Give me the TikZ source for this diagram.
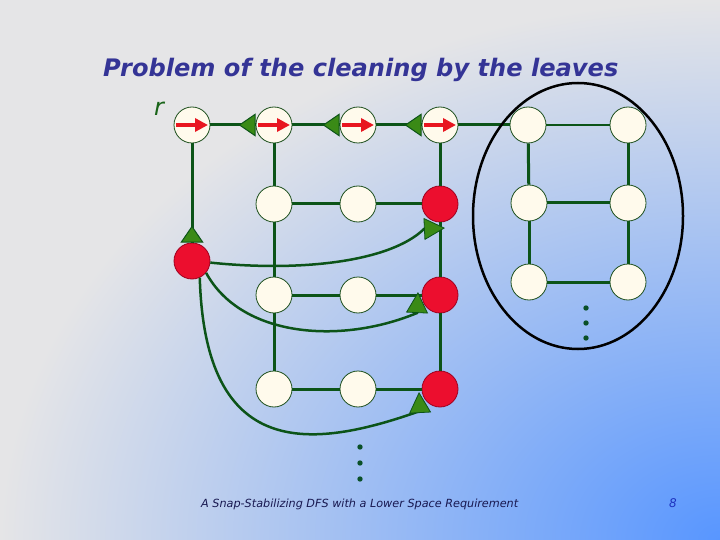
\documentclass[tikz,border=0pt]{standalone}
\usepackage{fontspec}
\setmainfont{DejaVu Sans}
\usetikzlibrary{arrows.meta}
\definecolor{bggray}{RGB}{229,229,231}
\definecolor{bgblue}{RGB}{88,150,255}
\definecolor{edgegreen}{RGB}{12,84,24}
\definecolor{nodeborder}{RGB}{30,80,30}
\definecolor{cream}{RGB}{255,250,236}
\definecolor{nodered}{RGB}{236,14,46}
\definecolor{redborder}{RGB}{160,0,30}
\definecolor{trigreen}{RGB}{58,138,22}
\definecolor{arrred}{RGB}{232,22,32}
\definecolor{titleblue}{RGB}{52,52,150}
\definecolor{footblue}{RGB}{24,24,80}
\definecolor{pageblue}{RGB}{30,50,190}
\definecolor{rgreen}{RGB}{25,100,25}
\definecolor{dotgreen}{RGB}{10,80,40}
\begin{document}
\begin{tikzpicture}[x=1pt,y=-1pt,
  wnode/.style={circle, draw=nodeborder, line width=0.8pt, fill=cream, minimum size=36pt, inner sep=0pt},
  rnode/.style={circle, draw=redborder, line width=0.8pt, fill=nodered, minimum size=36pt, inner sep=0pt},
  edge/.style={draw=edgegreen, line width=3pt},
  tri/.style={draw=edgegreen, line width=1pt, -{Triangle[length=17pt,width=23pt,fill=trigreen]}},
  curvearr/.style={draw=edgegreen, line width=2.5pt, -{Triangle[length=21pt,width=22pt,fill=trigreen,line width=0.8pt]}},
  redarr/.style={draw=arrred, line width=4pt, -{Triangle[length=13pt,width=13pt]}},
  dot/.style={fill=dotgreen}
]
\useasboundingbox (0,0) rectangle (720,540);
\fill[bggray] (0,0) rectangle (720,540);
\begin{scope}
  \clip (0,0) rectangle (720,540);
  \shade[inner color=bgblue, outer color=bggray] (720,540) ellipse [x radius=720, y radius=540];
\end{scope}

% texts
\node[anchor=base west, text=titleblue, inner sep=0pt] (title) at (103,77)
  {\resizebox{515pt}{!}{\bfseries\itshape Problem of the cleaning by the leaves}};
\node[anchor=base west, text=rgreen, inner sep=0pt] (rlabel) at (154,116)
  {\fontsize{24pt}{28pt}\selectfont\itshape r};
\node[anchor=base west, text=footblue, inner sep=0pt] (foot) at (201,507)
  {\resizebox{317pt}{!}{\itshape A Snap-Stabilizing DFS with a Lower Space Requirement}};
\node[anchor=base, text=pageblue, inner sep=0pt] (page) at (673,507)
  {\fontsize{12pt}{14pt}\selectfont\itshape 8};

% nodes
\node[wnode] (t1) at (192,125) {};
\node[wnode] (t2) at (274,125) {};
\node[wnode] (t3) at (358,125) {};
\node[wnode] (t4) at (440,125) {};
\node[wnode] (t5) at (528,125) {};
\node[wnode] (t6) at (628,125) {};
\node[rnode] (rl) at (192,261) {};
\node[wnode] (a2) at (274,204) {};
\node[wnode] (a3) at (358,204) {};
\node[rnode] (r1) at (440,204) {};
\node[wnode] (b2) at (274,295) {};
\node[wnode] (b3) at (358,295) {};
\node[rnode] (r2) at (440,295) {};
\node[wnode] (c2) at (274,389) {};
\node[wnode] (c3) at (358,389) {};
\node[rnode] (r3) at (440,389) {};
\node[wnode] (e1) at (529,203) {};
\node[wnode] (e2) at (628,203) {};
\node[wnode] (f1) at (529,282) {};
\node[wnode] (f2) at (628,282) {};

% grid edges
\draw[edge] (t1) -- (t2);
\draw[edge] (t2) -- (t3);
\draw[edge] (t3) -- (t4);
\draw[edge] (t4) -- (t5);
\draw[edge, line width=2.2pt] (t5) -- (t6);
\draw[edge] (t1) -- (rl);
\draw[edge] (t2) -- (a2);
\draw[edge] (a2) -- (b2);
\draw[edge] (b2) -- (c2);
\draw[edge] (t4) -- (r1);
\draw[edge] (r1) -- (r2);
\draw[edge] (r2) -- (r3);
\draw[edge] (a2) -- (a3);
\draw[edge] (a3) -- (r1);
\draw[edge] (b2) -- (b3);
\draw[edge] (b3) -- (r2);
\draw[edge] (c2) -- (c3);
\draw[edge] (c3) -- (r3);
\draw[edge] (t5) -- (e1);
\draw[edge] (e1) -- (f1);
\draw[edge] (t6) -- (e2);
\draw[edge] (e2) -- (f2);
\draw[edge] (e1) -- (e2);
\draw[edge] (f1) -- (f2);

% red arrows inside top nodes
\foreach \n in {t1,t2,t3,t4}{
  \draw[redarr] ([xshift=-16pt]\n.center) -- ([xshift=16pt]\n.center);
}

% green triangles on the top row and above the red node
\draw[tri] (t2.west) -- ++(-17,0);
\draw[tri] (t3.west) -- ++(-17,0);
\draw[tri] (t4.west) -- ++(-17,0);
\draw[tri] (rl.north) -- ++(0,-17);

% curved connectors
\coordinate (m1) at (424,229);
\coordinate (k1) at (445,228);
\coordinate (m2) at (417,313);
\coordinate (k2) at (418,292);
\coordinate (m3) at (420,411);
\coordinate (k3) at (419,392);
\draw[curvearr] (rl.-5) .. controls (300,272) and (390,262) .. (m1) -- (k1);
\draw[curvearr] (rl.-40) .. controls (241,337) and (340,345) .. (m2) -- (k2);
\draw[curvearr] (rl.-65) .. controls (205,460) and (310,450) .. (m3) -- (k3);

% dots
\foreach \y in {308,323,338}{ \fill[dot] (586,\y) circle [radius=2.7]; }
\foreach \y in {447,463,479}{ \fill[dot] (360,\y) circle [radius=2.7]; }

% ellipse around the right part
\draw[black, line width=2.5pt] (578,216) ellipse [x radius=105, y radius=133];
\end{tikzpicture}
\end{document}
